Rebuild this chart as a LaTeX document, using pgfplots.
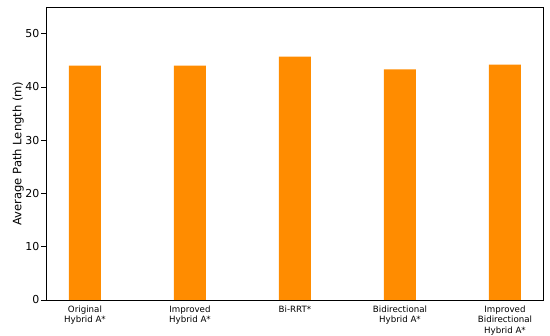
\documentclass[border=0pt]{standalone}
\usepackage{fontspec}
\setmainfont{DejaVu Sans}
\usepackage{pgfplots}
\pgfplotsset{compat=1.18}
\definecolor{barorange}{RGB}{255,140,0}
\begin{document}
\begin{tikzpicture}
\useasboundingbox (-46bp,-36bp) rectangle (504bp,300bp);
\begin{axis}[
  at={(0,0)}, anchor=south west,
  scale only axis,
  width=497bp, height=293bp,
  xmin=-0.371, xmax=4.362,
  ymin=0, ymax=55,
  ytick={0,10,20,30,40,50},
  xtick={0,1,2,3,4},
  xticklabels={{Original\\Hybrid A*},{Improved\\Hybrid A*},{Bi-RRT*},{Bidirectional\\Hybrid A*},{Improved\\Bidirectional\\Hybrid A*}},
  x tick label style={font=\fontsize{8.7}{10.7}\selectfont, align=center, inner sep=1bp},
  y tick label style={font=\fontsize{11}{13}\selectfont, inner sep=2bp},
  /pgf/number format/assume math mode=true,
  ylabel={Average Path Length (m)},
  ylabel style={font=\fontsize{11.6}{13}\selectfont},
  ylabel shift=-4bp,
  tick align=outside,
  xtick pos=bottom, ytick pos=left,
  major tick length=4.5bp,
  tick style={black, line width=0.8bp},
  axis line style={black, line width=1bp},
  xtick style={draw=none},
]
\addplot[ybar, bar width=32bp, fill=barorange, draw=none] coordinates {
  (0,44.0) (1,44.0) (2,45.7) (3,43.3) (4,44.2)
};
\end{axis}
\end{tikzpicture}
\end{document}
